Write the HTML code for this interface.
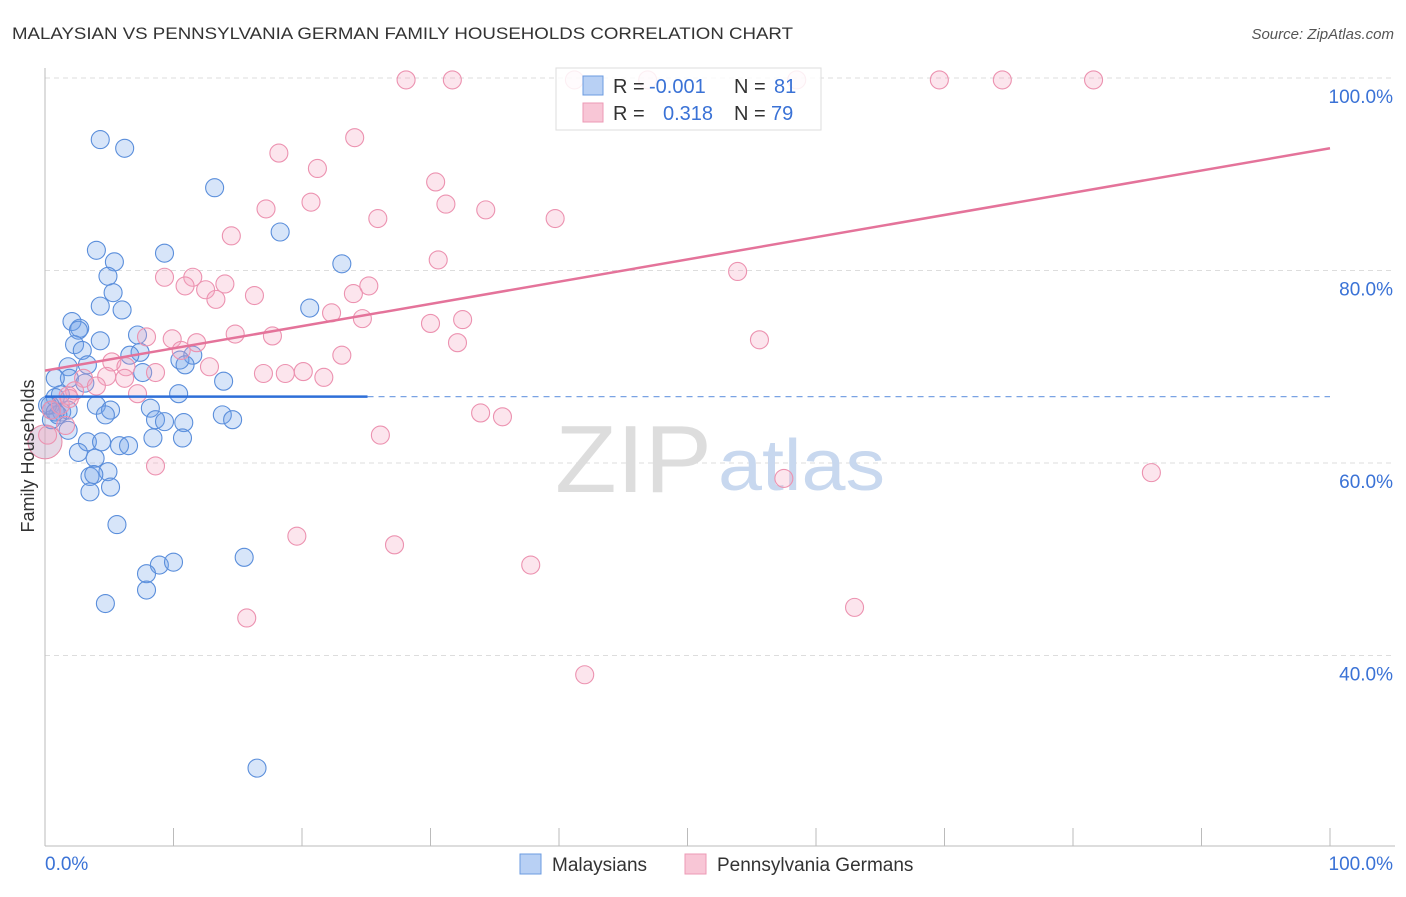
<!DOCTYPE html>
<html><head><meta charset="utf-8"><style>
body{margin:0;background:#fff;font-family:"Liberation Sans",sans-serif;}
svg text{font-family:"Liberation Sans",sans-serif;}
</style></head><body>
<svg width="1406" height="892" xmlns="http://www.w3.org/2000/svg">
<text x="12" y="39" font-size="17" fill="#333" textLength="781" lengthAdjust="spacingAndGlyphs">MALAYSIAN VS PENNSYLVANIA GERMAN FAMILY HOUSEHOLDS CORRELATION CHART</text>
<text x="1394" y="39" font-size="15" fill="#555" text-anchor="end" font-style="italic">Source: ZipAtlas.com</text>
<g id="grid"></g>
<g id="axes"></g>
<text x="555" y="492" font-size="96" fill="#ddd" font-family="Liberation Serif" textLength="157" lengthAdjust="spacingAndGlyphs">ZIP</text>
<text x="718" y="490" font-size="72" fill="#c8d8ef" textLength="167" lengthAdjust="spacingAndGlyphs">atlas</text>
<g id="points"></g>
<g id="trends"></g>
<text transform="translate(34,456) rotate(-90)" font-size="18" fill="#333" text-anchor="middle">Family Households</text>
<g>
<rect x="556" y="68" width="265" height="62" fill="rgba(255,255,255,0.85)" stroke="#ddd"/>
<rect x="583" y="76" width="20" height="19" fill="#b8d0f4" stroke="#6b9be0"/>
<rect x="583" y="103" width="20" height="19" fill="#f8c6d6" stroke="#ec9ab5"/>
<text x="613" y="93" font-size="20" fill="#333">R =</text>
<text x="649" y="93" font-size="20" fill="#3a72d6">-0.001</text>
<text x="734" y="93" font-size="20" fill="#333">N =</text>
<text x="774" y="93" font-size="20" fill="#3a72d6">81</text>
<text x="613" y="120" font-size="20" fill="#333">R =</text>
<text x="663" y="120" font-size="20" fill="#3a72d6">0.318</text>
<text x="734" y="120" font-size="20" fill="#333">N = </text>
<text x="771" y="120" font-size="20" fill="#3a72d6">79</text>
</g>
<g>
<rect x="520" y="854" width="21" height="20" fill="#b8d0f4" stroke="#6b9be0"/>
<text x="552" y="871" font-size="19" fill="#333">Malaysians</text>
<rect x="685" y="854" width="21" height="20" fill="#f8c6d6" stroke="#ec9ab5"/>
<text x="717" y="871" font-size="19" fill="#333">Pennsylvania Germans</text>
</g>
</svg>
<script>
const yTicks=[40,60,80,100];
const yTickLabels=["40.0%","60.0%","80.0%","100.0%"];
const xTickLabels=["0.0%","100.0%"];
const blueX=[4.3,6.2,13.2,18.3,4.0,9.3,5.4,4.9,23.1,5.3,4.3,6.0,20.6,2.1,2.7,2.6,4.3,2.3,2.9,7.2,7.4,6.6,11.5,10.5,10.9,1.8,3.3,7.6,1.9,0.8,3.1,13.9,10.4,1.2,0.8,0.4,0.5,1.3,1.8,0.5,1.0,4.0,5.1,8.2,8.6,9.3,4.7,10.8,13.8,14.6,1.8,8.4,10.7,3.3,4.4,5.8,6.5,2.6,3.9,4.9,3.5,3.8,5.1,3.5,5.6,8.9,7.9,10.0,15.5,7.9,4.7,16.5,0.2,0.8];
const blueY=[93.6,92.7,88.6,84.0,82.1,81.8,80.9,79.4,80.7,77.7,76.3,75.9,76.1,74.7,74.0,73.8,72.7,72.3,71.7,73.3,71.5,71.2,71.2,70.7,70.2,70.0,70.2,69.4,68.8,68.8,68.3,68.5,67.2,67.1,66.8,66.0,65.5,65.3,65.5,64.5,65.0,66.0,65.5,65.7,64.5,64.3,65.0,64.2,65.0,64.5,63.4,62.6,62.6,62.2,62.2,61.8,61.8,61.1,60.5,59.1,58.6,58.8,57.5,57.0,53.6,49.4,48.5,49.7,50.2,46.8,45.4,28.3,66.0,65.3];
const pinkX=[28.1,31.7,41.2,46.9,58.5,69.6,74.5,81.6,24.1,18.2,21.2,30.4,31.2,34.3,25.9,39.7,20.7,17.2,14.5,30.6,53.9,9.3,11.5,10.9,14.0,12.5,13.3,16.3,24.0,25.2,22.3,24.7,30.0,32.5,55.6,14.8,17.7,9.9,7.9,11.8,10.6,23.1,32.1,12.8,5.2,6.3,8.6,17.0,18.7,20.1,21.7,6.2,3.0,4.8,4.0,2.3,7.2,1.8,33.9,35.6,26.1,8.6,57.5,86.1,19.6,27.2,37.8,63.0,15.7,42.0,0.2,1.2,1.6,0.5,1.9];
const pinkY=[99.8,99.8,99.8,99.8,99.8,99.8,99.8,99.8,93.8,92.2,90.6,89.2,86.9,86.3,85.4,85.4,87.1,86.4,83.6,81.1,79.9,79.3,79.3,78.4,78.6,78.0,77.0,77.4,77.6,78.4,75.6,75.0,74.5,74.9,72.8,73.4,73.2,72.9,73.1,72.5,71.7,71.2,72.5,70.0,70.5,70.0,69.4,69.3,69.3,69.5,68.9,68.8,68.8,69.0,68.0,67.5,67.2,67.0,65.2,64.8,62.9,59.7,58.4,59.0,52.4,51.5,49.4,45.0,43.9,38.0,62.9,66.0,63.9,65.5,66.7];
const blueTrend={x0:0,x1:25.1,y:66.9};
const pinkTrend={x0:0,y0:69.6,x1:100,y1:92.7};
const NS="http://www.w3.org/2000/svg";
const X=v=>45+v*12.85, Y=v=>78+(100-v)*9.625;
function mk(tag,attrs,parent){const e=document.createElementNS(NS,tag);for(const k in attrs)e.setAttribute(k,attrs[k]);parent.appendChild(e);return e;}
const grid=document.getElementById('grid'),axes=document.getElementById('axes'),pts=document.getElementById('points'),tr=document.getElementById('trends');
yTicks.forEach((t,i)=>{
 const l=mk('line',{x1:45,x2:1395,y1:Y(t),y2:Y(t),stroke:'#ddd','stroke-dasharray':'5,4'},grid);
 
 
 const tx=mk('text',{x:1393,y:Y(t)+25,'font-size':19,fill:'#3a72d6','text-anchor':'end'},grid);
 tx.textContent=yTickLabels[i];
 
 
});
mk('line',{x1:45,x2:45,y1:68,y2:846,stroke:'#bbb'},axes);
mk('line',{x1:45,x2:1395,y1:846,y2:846,stroke:'#bbb'},axes);
for(let i=0;i<=10;i++){const t=mk('line',{x1:X(i*10),x2:X(i*10),y1:828,y2:846,stroke:'#bbb'},axes);
 
 }
[0,100].forEach((v,i)=>{const t=mk('text',{x:i?1393:45,y:870,'font-size':19,fill:'#3a72d6','text-anchor':i?'end':'start'},axes);t.textContent=xTickLabels[i];
 
 });
const big=mk('circle',{cx:X(0),cy:Y(62.2),r:17,fill:'rgba(200,170,200,0.45)',stroke:'#e88aa8'},pts);


blueX.forEach((v,i)=>{const c=mk('circle',{cx:X(v),cy:Y(blueY[i]),r:9,fill:'rgba(110,160,235,0.28)',stroke:'#5a8edb','stroke-width':1.1},pts);
 
 });
pinkX.forEach((v,i)=>{const c=mk('circle',{cx:X(v),cy:Y(pinkY[i]),r:9,fill:'rgba(245,160,190,0.28)',stroke:'#ec92b0','stroke-width':1.1},pts);
 
 });
const b1=mk('line',{x1:X(blueTrend.x0),x2:X(blueTrend.x1),y1:Y(blueTrend.y),y2:Y(blueTrend.y),stroke:'#2e6fd8','stroke-width':2.5},tr);


const b2=mk('line',{x1:X(blueTrend.x1),x2:X(100),y1:Y(blueTrend.y),y2:Y(blueTrend.y),stroke:'#7aa3e3','stroke-width':1.2,'stroke-dasharray':'6,5'},tr);


const p1=mk('line',{x1:X(pinkTrend.x0),x2:X(pinkTrend.x1),y1:Y(pinkTrend.y0),y2:Y(pinkTrend.y1),stroke:'#e4739a','stroke-width':2.5},tr);


</script>
</body></html>
